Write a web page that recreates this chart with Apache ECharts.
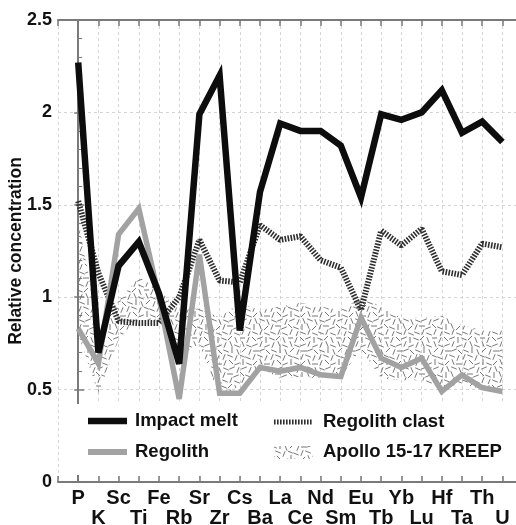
<!DOCTYPE html>
<html>
<head>
<meta charset="utf-8">
<script src="https://cdn.jsdelivr.net/npm/echarts@6/dist/echarts.min.js"></script>
<style>
  html, body { margin: 0; padding: 0; background: #fff; }
  #chart { width: 516px; height: 525px; }
</style>
</head>
<body>
<div id="chart"></div>
<script>
// element order along the x axis
const elements = ['P', 'K', 'Sc', 'Ti', 'Fe', 'Rb', 'Sr', 'Zr', 'Cs', 'Ba', 'La',
  'Ce', 'Nd', 'Sm', 'Eu', 'Tb', 'Yb', 'Lu', 'Hf', 'Ta', 'Th', 'U'];

const impactMelt = [2.27, 0.70, 1.17, 1.30, 1.02, 0.64, 1.99, 2.20, 0.82, 1.57, 1.94,
  1.90, 1.90, 1.82, 1.54, 1.99, 1.96, 2.00, 2.12, 1.89, 1.95, 1.84];
const regolith = [0.83, 0.64, 1.34, 1.48, 1.00, 0.45, 1.23, 0.48, 0.48, 0.62, 0.60,
  0.62, 0.58, 0.57, 0.89, 0.67, 0.62, 0.67, 0.49, 0.58, 0.51, 0.49];
const regolithClast = [1.52, 1.13, 0.87, 0.86, 0.86, 1.00, 1.31, 1.09, 1.08, 1.39, 1.31,
  1.33, 1.20, 1.16, 0.93, 1.36, 1.28, 1.37, 1.14, 1.12, 1.29, 1.27];
// Apollo 15-17 KREEP range
const kreepHigh = [1.42, 0.84, 0.98, 1.11, 1.04, 0.93, 0.94, 0.89, 0.97, 0.93, 0.95,
  0.97, 0.95, 0.93, 1.00, 0.95, 0.89, 0.89, 0.90, 0.85, 0.82, 0.82];
const kreepLow = [0.80, 0.48, 0.77, 0.89, 0.86, 0.68, 0.75, 0.46, 0.52, 0.62, 0.56,
  0.57, 0.56, 0.57, 0.72, 0.56, 0.55, 0.55, 0.51, 0.53, 0.50, 0.50];

const yTicks = [0, 0.5, 1, 1.5, 2, 2.5];

const font = '"Liberation Sans", Arial, Helvetica, sans-serif';

// texture for the KREEP field: short strokes in several directions
function makeTexture() {
  const c = document.createElement('canvas');
  c.width = 48; c.height = 48;
  const ctx = c.getContext('2d');
  ctx.strokeStyle = '#777';
  ctx.lineWidth = 1;
  for (let i = 0; i < 8; i++) {
    for (let j = 0; j < 8; j++) {
      const a = ((i * 5 + j * 3 + (i * j) % 4) % 8) * Math.PI / 8;
      const cx = i * 6 + 3 + ((j * 7) % 3) - 1;
      const cy = j * 6 + 3 + ((i * 5) % 3) - 1;
      const dx = Math.cos(a) * 3, dy = Math.sin(a) * 3;
      ctx.beginPath();
      ctx.moveTo(cx - dx, cy - dy);
      ctx.lineTo(cx + dx, cy + dy);
      ctx.stroke();
    }
  }
  return c;
}
const texture = makeTexture();

const pairs = arr => arr.map((v, i) => [i, v]);

const chart = echarts.init(document.getElementById('chart'));

const axisGray = '#7a7a7a';
const legendText = { fontFamily: font, fontWeight: 'bold', fontSize: 18.5, fill: '#111', verticalAlign: 'middle' };

const option = {
  animation: false,
  grid: { left: 58, top: 20, width: 464.6, height: 462, outerBoundsMode: 'none', containLabel: false },
  xAxis: [
    {
      type: 'value', min: -1, max: 22, interval: 1, position: 'bottom',
      axisLine: { show: true, onZero: false, lineStyle: { color: axisGray, width: 2 } },
      axisTick: { show: true, inside: true, length: 6, lineStyle: { color: axisGray, width: 1.5 } },
      splitLine: { show: true, lineStyle: { color: '#d4d4d4', type: [3, 3], width: 1 } },
      axisLabel: {
        margin: 6,
        fontFamily: font, fontWeight: 'bold', fontSize: 20, color: '#111', lineHeight: 20,
        showMinLabel: true, showMaxLabel: true,
        formatter: v => {
          if (v < 0 || v >= elements.length) return '';
          return v % 2 === 0 ? elements[v] : '\n' + elements[v];
        }
      }
    },
    {
      type: 'value', min: -1, max: 22, interval: 1, position: 'top',
      axisLine: { show: true, onZero: false, lineStyle: { color: axisGray, width: 2 } },
      axisTick: { show: true, inside: true, length: 6, lineStyle: { color: axisGray, width: 1.5 } },
      axisLabel: { show: false },
      splitLine: { show: false }
    }
  ],
  yAxis: [
    {
      type: 'value', min: 0, max: 2.5, interval: 0.5,
      name: 'Relative concentration', nameLocation: 'middle', nameGap: 33, nameMoveOverlap: false,
      nameTextStyle: { fontFamily: font, fontWeight: 'bold', fontSize: 17.5, color: '#111' },
      axisLine: { show: true, lineStyle: { color: axisGray, width: 2 } },
      axisTick: { show: true, inside: true, length: 6, lineStyle: { color: axisGray, width: 1.5 } },
      minorTick: { show: true, splitNumber: 5, length: 4, lineStyle: { color: axisGray, width: 1 } },
      splitLine: { show: true, lineStyle: { color: '#d4d4d4', type: [3, 3], width: 1 } },
      axisLabel: {
        margin: 6, fontFamily: font, fontWeight: 'bold', fontSize: 18, color: '#111',
        formatter: v => (yTicks.indexOf(v) >= 0 ? String(v) : '')
      }
    },
    {
      type: 'value', min: 0, max: 2.5, interval: 0.5, position: 'right', offset: -7,
      axisLine: { show: false },
      axisTick: { show: true, inside: true, length: 4, lineStyle: { color: axisGray, width: 1.5 } },
      axisLabel: { show: false },
      splitLine: { show: false }
    }
  ],
  series: [
    {
      name: 'Apollo 15-17 KREEP', type: 'custom',
      data: kreepHigh.map((v, i) => [i, v, kreepLow[i]]),
      silent: true, z: 1,
      renderItem: (params, api) => {
        if (params.dataIndex !== 0) return null;
        const top = kreepHigh.map((v, i) => api.coord([i, v]));
        const bottom = kreepLow.map((v, i) => api.coord([i, v])).reverse();
        return {
          type: 'polygon',
          shape: { points: top.concat(bottom) },
          style: { fill: { image: texture, repeat: 'repeat' } }
        };
      }
    },
    {
      name: 'Regolith clast', type: 'line', data: pairs(regolithClast), symbol: 'none', z: 2,
      lineStyle: { color: '#2e2e2e', width: 6, type: [1.6, 1.4], cap: 'butt' }
    },
    {
      name: 'Regolith', type: 'line', data: pairs(regolith), symbol: 'none', z: 3,
      lineStyle: { color: '#a2a2a2', width: 5.5, join: 'miter', miterLimit: 4 }
    },
    {
      name: 'Impact melt', type: 'line', data: pairs(impactMelt), symbol: 'none', z: 4,
      lineStyle: { color: '#0d0d0d', width: 6.5, join: 'miter', miterLimit: 4 }
    }
  ],
  graphic: [
    { type: 'rect', shape: { x: 60, y: 404, width: 456, height: 71 }, style: { fill: '#fff' }, z: 90 },
    { type: 'line', shape: { x1: 88, y1: 421, x2: 127, y2: 421 }, style: { stroke: '#0d0d0d', lineWidth: 6.5 }, z: 100 },
    { type: 'text', x: 135, y: 421, style: Object.assign({ text: 'Impact melt' }, legendText), z: 100 },
    { type: 'line', shape: { x1: 88, y1: 452, x2: 127, y2: 452 }, style: { stroke: '#a2a2a2', lineWidth: 6 }, z: 100 },
    { type: 'text', x: 135, y: 452, style: Object.assign({ text: 'Regolith' }, legendText), z: 100 },
    { type: 'line', shape: { x1: 274, y1: 422, x2: 313, y2: 422 }, style: { stroke: '#2e2e2e', lineWidth: 5, lineDash: [1.6, 1.4] }, z: 100 },
    { type: 'text', x: 323, y: 422, style: Object.assign({ text: 'Regolith clast' }, legendText), z: 100 },
    { type: 'rect', shape: { x: 274, y: 446, width: 39, height: 13 }, style: { fill: { image: texture, repeat: 'repeat' } }, z: 100 },
    { type: 'text', x: 323, y: 452, style: Object.assign({ text: 'Apollo 15-17 KREEP' }, legendText), z: 100 }
  ]
};

chart.setOption(option);
</script>
</body>
</html>
